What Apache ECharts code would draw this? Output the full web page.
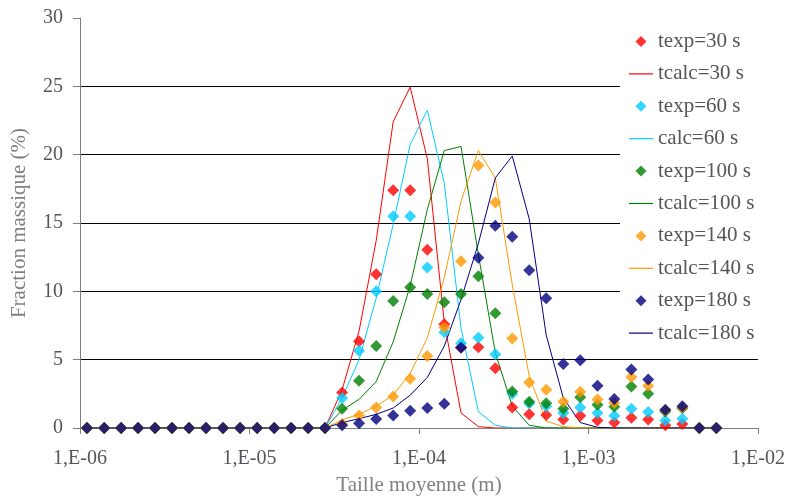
<!DOCTYPE html>
<html>
<head>
<meta charset="utf-8">
<script src="https://cdn.jsdelivr.net/npm/echarts@6/dist/echarts.min.js"></script>
<style>
html,body{margin:0;padding:0;background:#fff;}
#chart{width:788px;height:501px;}
</style>
</head>
<body>
<div id="chart"></div>
<script>
// Particle sizes (m)
var sizes = [1.10e-6,1.39e-6,1.75e-6,2.20e-6,2.77e-6,3.49e-6,4.40e-6,5.54e-6,6.98e-6,8.80e-6,
  1.11e-5,1.40e-5,1.76e-5,2.22e-5,2.79e-5,3.52e-5,4.43e-5,5.59e-5,7.04e-5,8.87e-5,
  1.12e-4,1.41e-4,1.77e-4,2.24e-4,2.82e-4,3.55e-4,4.47e-4,5.63e-4,7.10e-4,8.94e-4,
  1.13e-3,1.42e-3,1.79e-3,2.25e-3,2.84e-3,3.58e-3,4.51e-3,5.68e-3];

var texp30  = [0,0,0,0,0,0,0,0,0,0,0,0,0,0,0, 2.6,6.35,11.25,17.4,17.4,13.05,7.6,5.9,5.9,4.37,1.5,1.0,0.95,0.63,0.9,0.55,0.4,0.75,0.62,0.2,0.3,0,0];
var tcalc30 = [0,0,0,0,0,0,0,0,0,0,0,0,0,0,0, 2.8,7.1,13.7,22.4,24.95,19.7,7.7,1.1,0.1,0,0,0,0,0,0,0,0,0,0,0,0,0,0];
var texp60  = [0,0,0,0,0,0,0,0,0,0,0,0,0,0,0, 2.2,5.65,10.0,15.5,15.5,11.75,7.0,6.2,6.6,5.4,2.5,1.8,1.6,1.1,1.5,1.1,0.9,1.4,1.17,0.55,0.67,0,0];
var calc60  = [0,0,0,0,0,0,0,0,0,0,0,0,0,0,0, 2.2,5.0,9.5,14.9,20.75,23.25,17.9,7.3,1.2,0.2,0,0,0,0,0,0,0,0,0,0,0,0,0];
var texp100 = [0,0,0,0,0,0,0,0,0,0,0,0,0,0,0, 1.4,3.45,6.0,9.3,10.3,9.8,9.2,9.8,11.1,8.4,2.67,1.92,1.82,1.4,2.25,1.7,1.55,3.03,2.5,1.2,1.45,0,0];
var tcalc100= [0,0,0,0,0,0,0,0,0,0,0,0,0,0,0, 1.3,2.1,3.4,6.3,10.4,16.0,20.3,20.6,12.7,5.5,1.6,0.2,0,0,0,0,0,0,0,0,0,0,0];
var texp140 = [0,0,0,0,0,0,0,0,0,0,0,0,0,0,0, 0.3,0.92,1.5,2.3,3.6,5.27,7.35,12.2,19.2,16.5,6.55,3.33,2.8,1.92,2.65,2.08,1.85,3.73,3.1,1.3,1.5,0,0];
var tcalc140= [0,0,0,0,0,0,0,0,0,0,0,0,0,0,0, 0.6,1.0,1.6,2.4,4.0,6.6,11.0,16.6,20.3,18.3,10.5,3.8,0.5,0.1,0,0,0,0,0,0,0,0,0];
var texp180 = [0,0,0,0,0,0,0,0,0,0,0,0,0,0,0, 0.2,0.34,0.66,0.92,1.26,1.46,1.78,5.88,12.45,14.8,14.0,11.55,9.5,4.68,4.95,3.1,2.12,4.28,3.55,1.33,1.6,0,0];
var tcalc180= [0,0,0,0,0,0,0,0,0,0,0,0,0,0,0, 0.4,0.68,1.0,1.46,2.4,3.7,6.0,9.4,13.5,18.3,19.9,15.3,6.8,2.2,0.4,0.05,0,0,0,0,0,0,0];

var names = ['texp=30 s','tcalc=30 s','texp=60 s','calc=60 s','texp=100 s','tcalc=100 s','texp=140 s','tcalc=140 s','texp=180 s','tcalc=180 s'];
var colors = ['#FF0000','#FF0000','#00CCFF','#00CCFF','#008000','#008000','#FF9900','#FF9900','#000080','#000080'];
var yTicks = [0,5,10,15,20,25,30];

var allData = [texp30,tcalc30,texp60,calc60,texp100,tcalc100,texp140,tcalc140,texp180,tcalc180];
var SERIF = 'Liberation Serif';

function pairs(arr){ return arr.map(function(v,i){ return [sizes[i], v]; }); }

var seriesList = [];
var legendData = [];
allData.forEach(function(arr, i){
  var isLine = (i % 2 === 1);
  if (isLine) {
    seriesList.push({
      name: names[i], type: 'line', data: pairs(arr), symbol: 'none', showSymbol: false,
      lineStyle: {color: colors[i], width: 1}, itemStyle: {color: colors[i]},
      z: 2
    });
    legendData.push({name: names[i], icon: 'path://M0,0 L24,0 L24,1.2 L0,1.2 Z', itemStyle: {color: colors[i]}});
  } else {
    seriesList.push({
      name: names[i], type: 'scatter', data: pairs(arr), symbol: 'diamond', symbolSize: 12,
      itemStyle: {color: colors[i]}, z: 3
    });
    legendData.push({name: names[i], icon: 'path://M12,0 L17.5,5.5 L12,11 L6.5,5.5 Z', itemStyle: {color: colors[i]}});
  }
});

var chart = echarts.init(document.getElementById('chart'), null, {renderer: 'canvas'});
chart.setOption({
  animation: false,
  grid: {left: 80, right: 30, top: 18, bottom: 71},
  legend: {
    orient: 'vertical', left: 620, top: 20,
    padding: [11, 29, 6, 9],
    backgroundColor: '#ffffff',
    itemWidth: 24, itemHeight: 11, itemGap: 11.4,
    textStyle: {fontFamily: SERIF, fontSize: 21},
    data: legendData,
    selectedMode: false,
    z: 10
  },
  xAxis: {
    type: 'log', min: 1e-6, max: 1e-2,
    name: 'Taille moyenne (m)', nameLocation: 'middle', nameGap: 47,
    nameTextStyle: {fontFamily: SERIF, fontSize: 21},
    axisLine: {show: true, onZero: false, lineStyle: {color: '#808080', width: 1}},
    axisTick: {show: true, inside: false, length: 6, lineStyle: {color: '#808080'}},
    splitLine: {show: false},
    axisLabel: {
      margin: 21, fontFamily: SERIF, fontSize: 20,
      formatter: function(v){
        var e = Math.round(Math.log(v)/Math.LN10);
        var a = Math.abs(e);
        return '1,E' + (e < 0 ? '-' : '+') + (a < 10 ? '0' + a : '' + a);
      }
    }
  },
  yAxis: {
    type: 'value', min: yTicks[0], max: yTicks[yTicks.length-1], interval: 5,
    name: 'Fraction massique (%)', nameLocation: 'middle', nameGap: 50, nameRotate: 90,
    nameTextStyle: {fontFamily: SERIF, fontSize: 21},
    axisLine: {show: true, lineStyle: {color: '#808080', width: 1}},
    axisTick: {show: true, inside: false, length: 7, lineStyle: {color: '#808080'}},
    splitLine: {show: true, showMaxLine: false, lineStyle: {color: '#000000', width: 1}},
    axisLabel: {margin: 17, fontFamily: SERIF, fontSize: 20}
  },
  textStyle: {fontFamily: SERIF},
  series: seriesList
});
</script>
</body>
</html>
